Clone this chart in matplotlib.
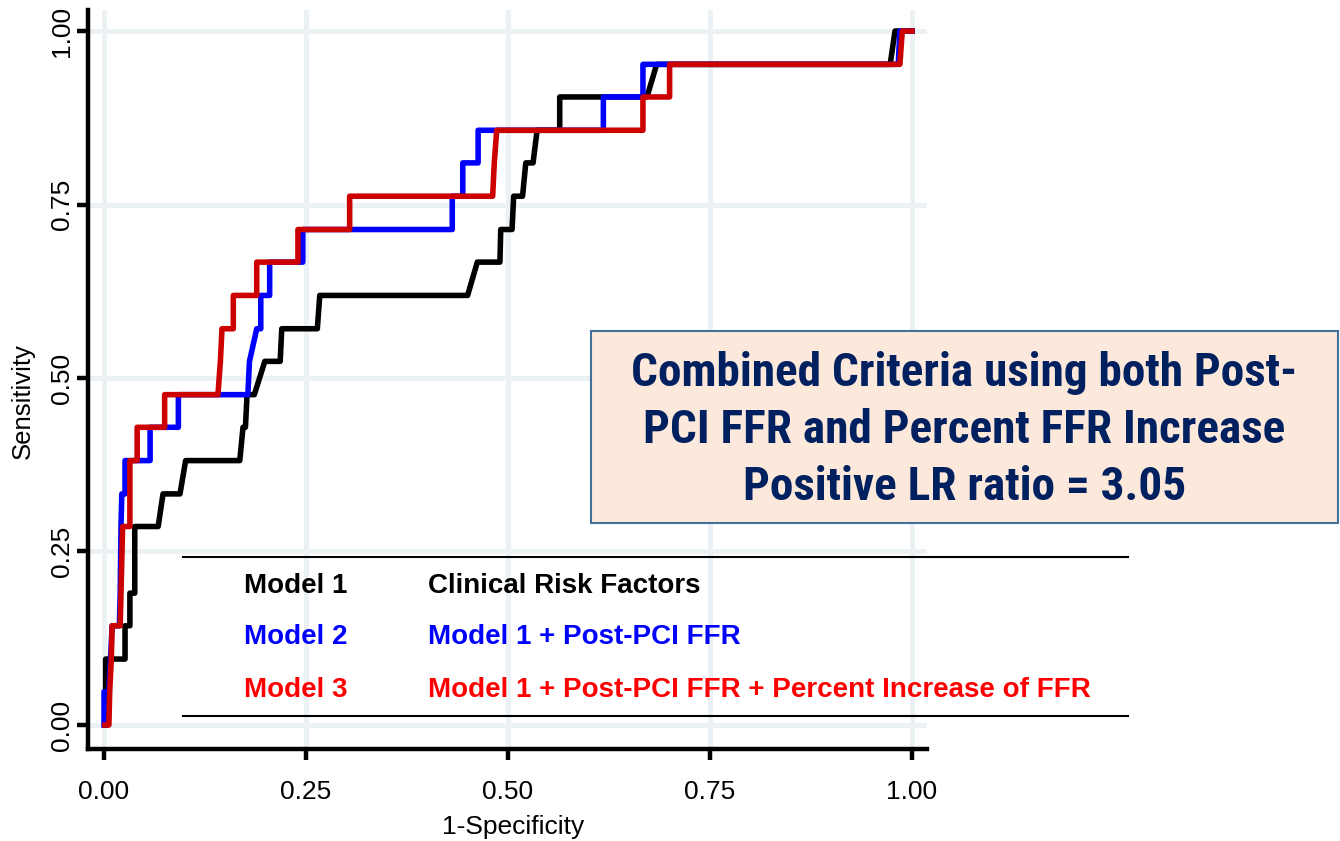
import matplotlib
matplotlib.use("Agg")
import matplotlib.pyplot as plt
from matplotlib.patches import Rectangle
from matplotlib import font_manager

# ROC curve points (1-Specificity, Sensitivity)
m1_fpr = [0.002, 0.002, 0.026, 0.026, 0.032, 0.032, 0.038, 0.038, 0.067, 0.073, 0.094, 0.101,
          0.168, 0.172, 0.175, 0.177, 0.186, 0.199, 0.218, 0.220, 0.264, 0.267, 0.450, 0.462,
          0.490, 0.491, 0.505, 0.507, 0.518, 0.522, 0.531, 0.536, 0.564, 0.564, 0.672, 0.684,
          0.973, 0.979, 1.000]
m1_tpr = [0.000, 0.095, 0.095, 0.143, 0.143, 0.190, 0.190, 0.286, 0.286, 0.333, 0.333, 0.381,
          0.381, 0.429, 0.429, 0.476, 0.476, 0.524, 0.524, 0.571, 0.571, 0.619, 0.619, 0.667,
          0.667, 0.714, 0.714, 0.762, 0.762, 0.810, 0.810, 0.857, 0.857, 0.905, 0.905, 0.952,
          0.952, 1.000, 1.000]

m2_fpr = [0.000, 0.000, 0.006, 0.008, 0.010, 0.019, 0.020, 0.021, 0.022, 0.026, 0.026, 0.057,
          0.057, 0.092, 0.092, 0.178, 0.180, 0.189, 0.194, 0.194, 0.205, 0.205, 0.246, 0.246,
          0.431, 0.431, 0.444, 0.444, 0.463, 0.463, 0.618, 0.618, 0.667, 0.667, 0.983, 0.985,
          1.000]
m2_tpr = [0.000, 0.048, 0.048, 0.095, 0.143, 0.143, 0.190, 0.286, 0.333, 0.333, 0.381, 0.381,
          0.429, 0.429, 0.476, 0.476, 0.524, 0.571, 0.571, 0.619, 0.619, 0.667, 0.667, 0.714,
          0.714, 0.762, 0.762, 0.810, 0.810, 0.857, 0.857, 0.905, 0.905, 0.952, 0.952, 1.000,
          1.000]

m3_fpr = [0.001, 0.006, 0.007, 0.009, 0.010, 0.020, 0.021, 0.022, 0.023, 0.032, 0.032, 0.041,
          0.041, 0.075, 0.075, 0.141, 0.144, 0.146, 0.160, 0.160, 0.189, 0.189, 0.240, 0.240,
          0.304, 0.304, 0.481, 0.483, 0.486, 0.667, 0.667, 0.700, 0.700, 0.985, 0.988, 1.000]
m3_tpr = [0.000, 0.000, 0.048, 0.095, 0.143, 0.143, 0.190, 0.238, 0.286, 0.286, 0.381, 0.381,
          0.429, 0.429, 0.476, 0.476, 0.524, 0.571, 0.571, 0.619, 0.619, 0.667, 0.667, 0.714,
          0.714, 0.762, 0.762, 0.810, 0.857, 0.857, 0.905, 0.905, 0.952, 0.952, 1.000, 1.000]

model_names = ['Model 1', 'Model 2', 'Model 3']
model_desc = ['Clinical Risk Factors',
              'Model 1 + Post-PCI FFR',
              'Model 1 + Post-PCI FFR + Percent Increase of FFR']
box_text = ('Combined Criteria using both Post-\n'
            'PCI FFR and Percent FFR Increase\n'
            'Positive LR ratio = 3.05')
ticks = [0.00, 0.25, 0.50, 0.75, 1.00]
tick_labels = ['0.00', '0.25', '0.50', '0.75', '1.00']

installed = {f.name for f in font_manager.fontManager.ttflist}
condensed = None
for name in ['Liberation Sans Narrow', 'Roboto Condensed', 'Open Sans Condensed']:
    if name in installed:
        condensed = name
        break
plt.rcParams['font.family'] = ['Liberation Sans', 'DejaVu Sans']

fig = plt.figure(figsize=(13.4, 8.41), dpi=100)
ax = fig.add_axes([0.0657, 0.1094, 0.6261, 0.8787])

ax.plot(m1_fpr, m1_tpr, color='black', lw=4, zorder=3)
ax.plot(m2_fpr, m2_tpr, color='#0000FF', lw=4, zorder=4)
ax.plot(m3_fpr, m3_tpr, color='#CC0000', lw=4, zorder=5)

ax.set_xlim(-0.0198, 1.0186)
ax.set_ylim(-0.0346, 1.0303)
ax.set_xticks(ticks)
ax.set_xticklabels(tick_labels, fontsize=19)
ax.set_yticks(ticks)
ax.set_yticklabels(tick_labels, fontsize=19, rotation=90, va='center')
ax.grid(True, color='#EBF1F4', lw=3.5, zorder=0)
ax.set_axisbelow(True)
for s in ['top', 'right']:
    ax.spines[s].set_visible(False)
for s in ['left', 'bottom']:
    ax.spines[s].set_linewidth(3.2)
ax.tick_params(axis='both', length=8, width=3.2, direction='out')
ax.tick_params(axis='x', pad=14)
ax.tick_params(axis='y', pad=2)
ax.set_xlabel('1-Specificity', fontsize=19)
ax.set_ylabel('Sensitivity', fontsize=18.5)
ax.xaxis.set_label_coords(0.5066, -0.089)
ax.yaxis.set_label_coords(-0.063, 0.471)

# legend table drawn by hand
ax.plot([0.098, 1.267], [0.242, 0.242], color='black', lw=1.5, clip_on=False, zorder=6)
ax.plot([0.098, 1.267], [0.013, 0.013], color='black', lw=1.5, clip_on=False, zorder=6)
legend_colors = ['black', '#0000FF', '#FF0000']
row_y = [0.200, 0.127, 0.050]
for name, desc, c, yy in zip(model_names, model_desc, legend_colors, row_y):
    ax.text(0.173, yy, name, color=c, fontsize=20, fontweight='bold',
            va='center', ha='left', clip_on=False, zorder=6)
    ax.text(0.401, yy, desc, color=c, fontsize=20, fontweight='bold',
            va='center', ha='left', clip_on=False, zorder=6)

# annotation box
fig.patches.append(Rectangle((0.441, 0.378), 0.5575, 0.228, transform=fig.transFigure,
                             facecolor='#FCE9DB', edgecolor='#41719C', lw=1.5, zorder=7))
box_family = [condensed, 'Liberation Sans'] if condensed else ['Liberation Sans']
box_size = 34 if condensed else 28.5
fig.text(0.7198, 0.4887, box_text, ha='center', va='center', fontsize=box_size,
         fontweight='bold', color='#002060', linespacing=1.37, family=box_family, zorder=8)

fig.savefig('out.png', dpi=100)
